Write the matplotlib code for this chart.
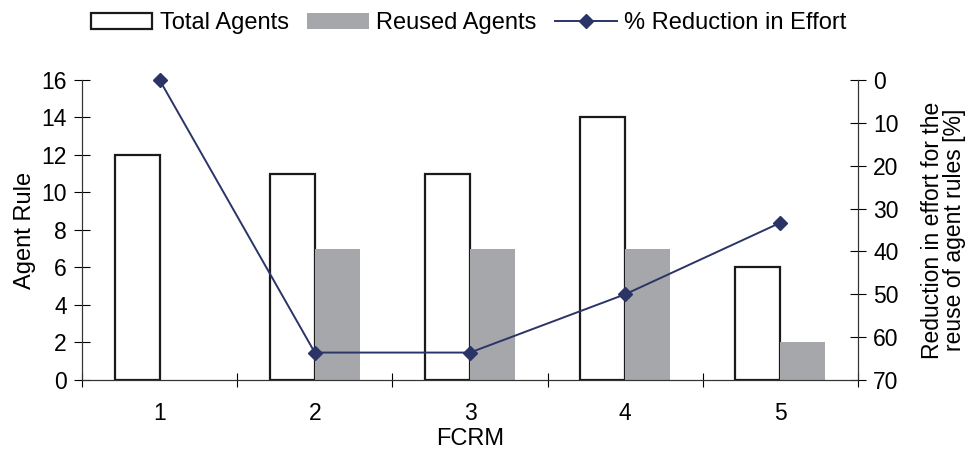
import numpy as np
import matplotlib.pyplot as plt

plt.rcParams['font.family'] = ['Liberation Sans', 'DejaVu Sans']

fcrm = [1, 2, 3, 4, 5]
total_agents = [12, 11, 11, 14, 6]
reused_agents = [0, 7, 7, 7, 2]
reduction = [0, 63.6, 63.6, 50, 33.3]

navy = '#2b3467'
grey = '#a6a7aa'

fig = plt.figure(figsize=(9.68, 4.57), dpi=100)
ax = fig.add_axes([0.0847, 0.1685, 0.8017, 0.6565])
ax2 = ax.twinx()

x = np.array(fcrm)
w = 0.29
b1 = ax.bar(x - w / 2, total_agents, w, facecolor='white', edgecolor='#1a1a1a',
            linewidth=1.6, label='Total Agents', zorder=2)
b2 = ax.bar(x + w / 2, reused_agents, w, facecolor=grey, edgecolor='none',
            label='Reused Agents', zorder=2)
ln, = ax2.plot(x, reduction, color=navy, linewidth=1.4, marker='D', markersize=7.5,
               label='% Reduction in Effort', zorder=3, clip_on=False)

ax.set_xlim(0.5, 5.5)
ax.set_ylim(0, 16)
ax.set_yticks(range(0, 17, 2))
ax2.set_ylim(70, 0)
ax2.set_yticks(range(0, 71, 10))

ax.set_xticks(np.arange(0.5, 5.6, 1))
ax.set_xticklabels([])
ax.set_xticks(x, minor=True)
ax.set_xticklabels([str(v) for v in fcrm], minor=True)
ax.tick_params(axis='x', which='major', direction='inout', length=10, width=0.8)
ax.tick_params(axis='x', which='minor', length=0, pad=16, labelsize=16.5)
ax.tick_params(axis='y', direction='inout', length=12, width=0.8, labelsize=16.5, pad=5)
ax2.tick_params(axis='y', direction='inout', length=12, width=0.8, labelsize=16.5, pad=5)

for a in (ax, ax2):
    a.spines['top'].set_visible(False)
    for s in ('left', 'right', 'bottom'):
        a.spines[s].set_linewidth(0.8)
        a.spines[s].set_color('#333333')

ax.set_xlabel('FCRM', fontsize=17, labelpad=2)
ax.set_ylabel('Agent Rule', fontsize=17, labelpad=4)
ax2.set_ylabel('Reduction in effort for the\nreuse of agent rules [%]', fontsize=16.5,
               labelpad=16, linespacing=0.95)

fig.legend([b1, b2, ln], ['Total Agents', 'Reused Agents', '% Reduction in Effort'],
           loc='upper center', bbox_to_anchor=(0.484, 1.02), ncol=3, frameon=False,
           fontsize=17, handlelength=2.6, handletextpad=0.3, columnspacing=0.8)

fig.savefig('out.png', dpi=100)
